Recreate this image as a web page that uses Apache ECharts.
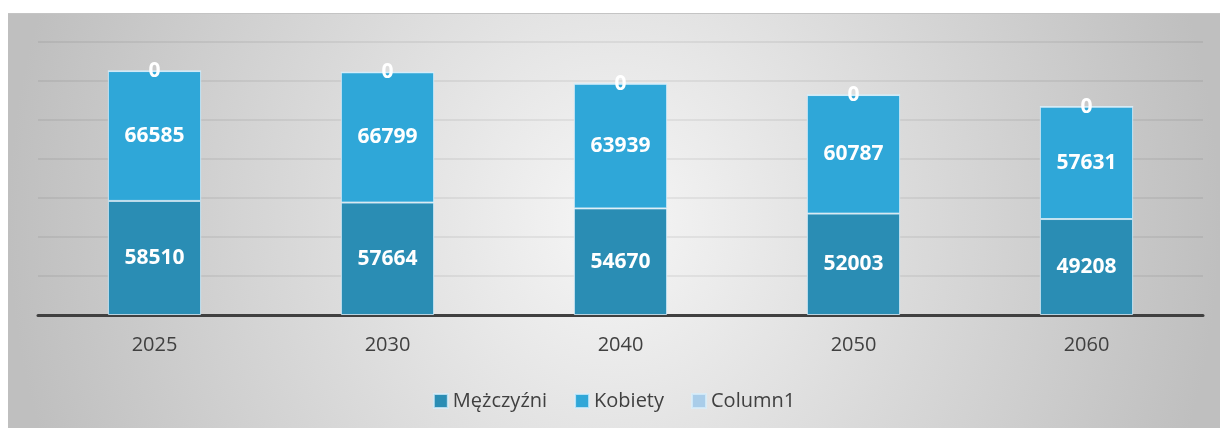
<!DOCTYPE html>
<html>
<head>
<meta charset="utf-8">
<script src="https://cdn.jsdelivr.net/npm/echarts@6/dist/echarts.min.js"></script>
<style>
    html, body { margin: 0; padding: 0; background: #ffffff; }
    #main {
        position: absolute; left: 8px; top: 13px; width: 1212px; height: 415px;
        background: radial-gradient(ellipse 50% 160% at 50% 50%, #f6f6f6 0%, #dadada 50%, #bfbfbf 100%);
        border-top: 1px solid #c4c4c4;
        box-sizing: border-box;
    }
</style>
</head>
<body>
<div id="main"></div>
<script>
var years = ["2025", "2030", "2040", "2050", "2060"];
var men = [58510, 57664, 54670, 52003, 49208];
var women = [66585, 66799, 63939, 60787, 57631];
var column1 = [0, 0, 0, 0, 0];
var seriesNames = ["Mężczyźni", "Kobiety", "Column1"];
var seriesColors = ["#2a8db4", "#2fa7d8", "#a9cde9"];

// 基于准备好的dom，初始化echarts实例
var myChart = echarts.init(document.getElementById('main'));

var label = {
    show: true,
    position: 'inside',
    color: '#ffffff',
    fontFamily: 'Open Sans',
    fontWeight: 'bold',
    fontSize: 21
};

function bar(name, data, color) {
    return {
        name: name,
        type: 'bar',
        stack: 'total',
        barWidth: '40%',
        data: data,
        itemStyle: {
            color: color,
            borderColor: 'rgba(215,238,250,0.8)',
            borderWidth: 1
        },
        label: label
    };
}

var option = {
    backgroundColor: 'transparent',
    textStyle: { fontFamily: 'Open Sans' },
    grid: { left: 30, right: 17, top: 28, bottom: 113 },
    legend: {
        data: seriesNames,
        bottom: 12,
        left: 'center',
        icon: 'rect',
        itemWidth: 14,
        itemHeight: 14,
        itemGap: 27,
        textStyle: { fontSize: 20, color: '#404040', fontFamily: 'Open Sans' }
    },
    xAxis: {
        type: 'category',
        data: years,
        axisLine: { lineStyle: { color: '#404040', width: 3 } },
        axisTick: { show: false },
        axisLabel: { fontSize: 20, color: '#404040', margin: 20 }
    },
    yAxis: {
        type: 'value',
        min: 0,
        max: 140000,
        interval: 20000,
        axisLabel: { show: false },
        axisLine: { show: false },
        axisTick: { show: false },
        splitLine: { lineStyle: { color: 'rgba(0,0,0,0.06)', width: 2 } }
    },
    series: [
        bar(seriesNames[0], men, seriesColors[0]),
        bar(seriesNames[1], women, seriesColors[1]),
        bar(seriesNames[2], column1, seriesColors[2])
    ]
};

myChart.setOption(option);
</script>
</body>
</html>
